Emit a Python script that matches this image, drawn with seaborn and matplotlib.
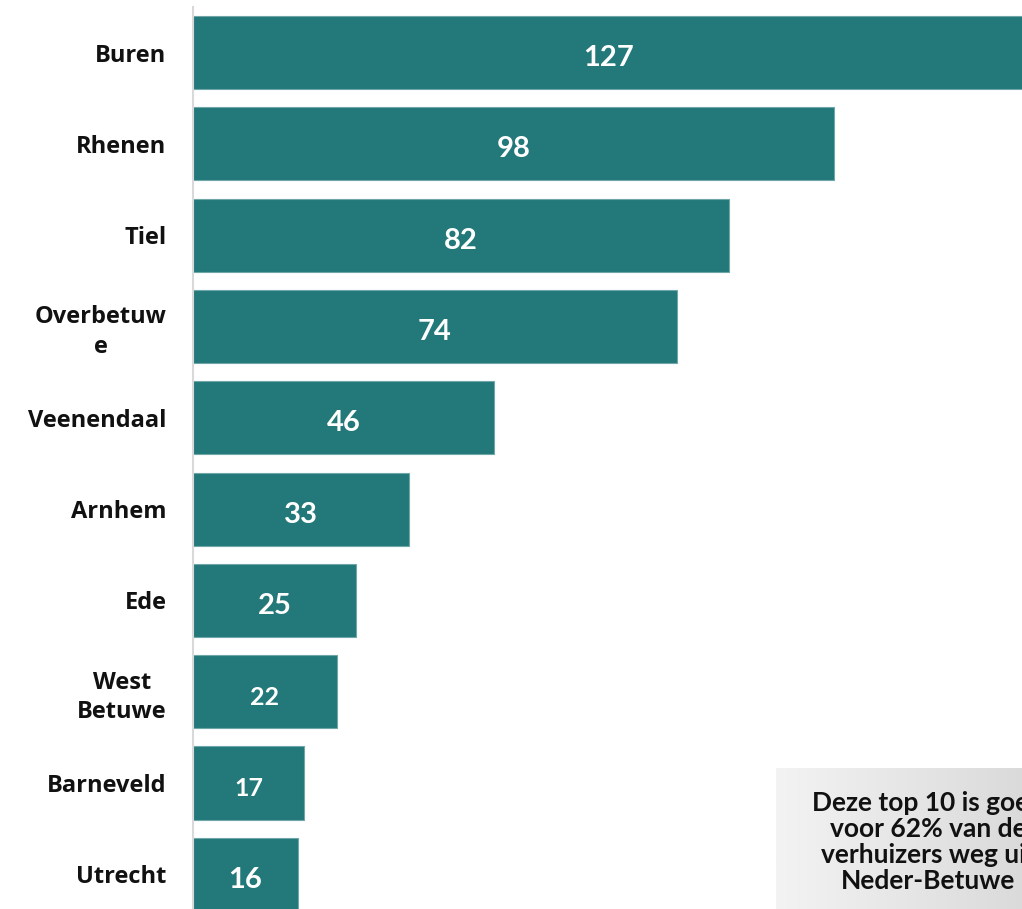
import numpy as np
import matplotlib
matplotlib.use('Agg')
import matplotlib.pyplot as plt
import seaborn as sns
import pandas as pd

# ── data ─────────────────────────────────────────────────────────────────────
gemeenten = ['Buren', 'Rhenen', 'Tiel', 'Overbetuw\ne', 'Veenendaal',
             'Arnhem', 'Ede', 'West\nBetuwe', 'Barneveld', 'Utrecht']
verhuizers = [127, 98, 82, 74, 46, 33, 25, 22, 17, 16]
note = 'Deze top 10 is goed\nvoor 62% van de\nverhuizers weg uit\nNeder-Betuwe'

TEAL = '#23787a'

sns.set_theme(style='white')
plt.rcParams['font.family'] = ['Open Sans', 'DejaVu Sans']

df = pd.DataFrame({'gemeente': gemeenten, 'aantal': verhuizers})

W, H = 1022, 909
fig = plt.figure(figsize=(W / 100, H / 100), dpi=100)
ax = fig.add_axes([193 / W, 0, 829 / W, 1])

sns.barplot(data=df, x='aantal', y='gemeente', color=TEAL, saturation=1,
            width=0.8, edgecolor='#6fa7a8', linewidth=0.8, ax=ax)

ax.set_xlim(0, 126.8)
ax.set_ylim(9.38, -0.575)
ax.set_xlabel(''); ax.set_ylabel('')
ax.set_xticks([])
for s in ['top', 'right', 'bottom']:
    ax.spines[s].set_visible(False)
ax.spines['left'].set_color('#d9d9d9')
ax.spines['left'].set_linewidth(1.5)
ax.spines['left'].set_bounds(-0.5, 9.38)
ax.tick_params(axis='y', length=0, pad=19)
for lbl in ax.get_yticklabels():
    lbl.set_fontsize(17)
    lbl.set_fontweight('bold')
    lbl.set_multialignment('center')
    lbl.set_linespacing(1.3)
    lbl.set_color('#111111')

for i, v in enumerate(verhuizers):
    ax.text(v / 2, i + 0.06, str(v), ha='center', va='center',
            color='white', fontsize=21 if v not in (22, 17) else 18,
            fontweight='bold', family=['Lato', 'DejaVu Sans'])

# ── note box with grey gradient (cut off at the right edge, as in the source) ─
bx = fig.add_axes([776 / W, 0, 330 / W, (H - 768) / H])
grad = np.linspace(0, 1, 256).reshape(1, -1)
bx.imshow(grad, aspect='auto', cmap=matplotlib.colors.LinearSegmentedColormap.from_list(
    'g', ['#f3f3f3', '#d2d2d2']), extent=[0, 1, 0, 1])
bx.set_axis_off()

fig.text(928 / W, 1 - 842 / H, note, ha='center', va='center',
         multialignment='center', fontsize=19, fontweight='bold',
         linespacing=1.1, color='#111111', family=['Lato', 'DejaVu Sans'])

fig.savefig('out.png', dpi=100)
